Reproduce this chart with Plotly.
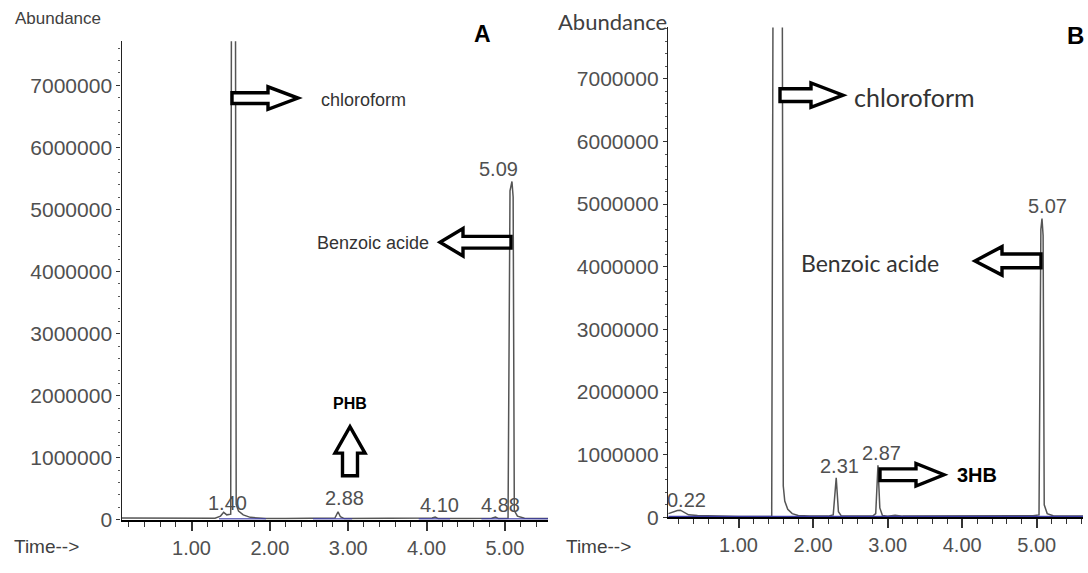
import plotly.graph_objects as go

W, H = 1088, 573

# ---------------- data ----------------
# Panel A chromatogram (time in min, abundance)
time_a = [0.10, 0.60, 1.00, 1.30, 1.37, 1.41, 1.45, 1.50, 1.51, 1.535, 1.56, 1.57,
          1.60, 1.66, 1.75, 1.85, 1.95, 2.20, 2.50, 2.83, 2.87, 2.90, 2.95, 3.20, 3.60,
          4.00, 4.07, 4.11, 4.15, 4.50, 4.83, 4.88, 4.92, 5.04, 5.065, 5.09, 5.105,
          5.12, 5.16, 5.25, 5.55]
abund_a = [30000, 30000, 25000, 25000, 60000, 120000, 80000, 90000, 9000000, 9500000,
           9000000, 250000, 140000, 80000, 40000, 25000, 20000, 20000, 20000, 30000,
           130000, 50000, 20000, 20000, 20000, 20000, 30000, 45000, 20000, 20000, 25000,
           45000, 20000, 25000, 5300000, 5450000, 5200000, 150000, 60000, 25000, 20000]
base_a_t = [1.35, 1.95, None, 2.55, 3.05, None, 3.90, 4.30, None, 4.70, 5.55]
base_a_y = [15000, 15000, None, 15000, 15000, None, 15000, 15000, None, 15000, 15000]

# Panel B chromatogram
time_b = [0.06, 0.12, 0.18, 0.22, 0.27, 0.33, 0.45, 0.70, 1.00, 1.30, 1.445, 1.465,
          1.52, 1.585, 1.600, 1.620, 1.66, 1.72, 1.80, 1.95, 2.20, 2.27, 2.31, 2.34,
          2.38, 2.50, 2.80, 2.84, 2.87, 2.895, 2.93, 3.00, 3.10, 3.20, 3.60, 4.00,
          4.05, 4.50, 4.95, 5.03, 5.055, 5.07, 5.085, 5.10, 5.14, 5.22, 5.62]
abund_b = [60000, 90000, 110000, 115000, 80000, 40000, 30000, 20000, 15000, 15000,
           15000, 9500000, 10000000, 9500000, 500000, 260000, 130000, 60000, 30000,
           20000, 20000, 40000, 630000, 90000, 20000, 20000, 20000, 60000, 830000,
           150000, 30000, 20000, 35000, 20000, 20000, 30000, 20000, 20000, 25000,
           40000, 4600000, 4770000, 4500000, 200000, 60000, 25000, 20000]
base_b_t = [0.06, 5.62]
base_b_y = [15000, 15000]

# peak labels
peaks_a_t = [1.40, 2.88, 4.10, 4.88, 5.09]
peaks_a_lbl = ["1.40", "2.88", "4.10", "4.88", "5.09"]
peaks_b_t = [0.22, 2.31, 2.87, 5.07]
peaks_b_lbl = ["0.22", "2.31", "2.87", "5.07"]

# axis ticks
y_ticks = [0, 1000000, 2000000, 3000000, 4000000, 5000000, 6000000, 7000000]
x_ticks = [1.0, 2.0, 3.0, 4.0, 5.0]

# ---------------- layout helpers (pixel -> paper) ----------------
def px(x):
    return x / W

def py(y):
    return 1 - y / H

def block_arrow(x0, y0, x1, y1, shaft, head, head_len):
    """outline block arrow from tail (x0,y0) to tip (x1,y1) in pixels"""
    dx, dy = x1 - x0, y1 - y0
    L = (dx * dx + dy * dy) ** 0.5
    ux, uy = dx / L, dy / L
    nx, ny = -uy, ux
    bx, by = x1 - ux * head_len, y1 - uy * head_len
    pts = [
        (x0 + nx * shaft, y0 + ny * shaft),
        (bx + nx * shaft, by + ny * shaft),
        (bx + nx * head, by + ny * head),
        (x1, y1),
        (bx - nx * head, by - ny * head),
        (bx - nx * shaft, by - ny * shaft),
        (x0 - nx * shaft, y0 - ny * shaft),
    ]
    path = "M " + " L ".join(f"{px(a):.5f},{py(b):.5f}" for a, b in pts) + " Z"
    return dict(type="path", xref="paper", yref="paper", path=path,
                line=dict(color="black", width=3.4), fillcolor="white", layer="above")

TICK_FONT = dict(family="Liberation Sans, Arial", size=20, color="#505050")
LINE_COL = "#555555"
BASE_COL = "#3d3da8"

fig = go.Figure()
fig.add_trace(go.Scatter(x=time_a, y=abund_a, mode="lines", xaxis="x", yaxis="y",
                         line=dict(color=LINE_COL, width=1.5), showlegend=False))
fig.add_trace(go.Scatter(x=base_a_t, y=base_a_y, mode="lines", xaxis="x", yaxis="y",
                         line=dict(color=BASE_COL, width=1.4), showlegend=False,
                         connectgaps=False))
fig.add_trace(go.Scatter(x=time_b, y=abund_b, mode="lines", xaxis="x2", yaxis="y2",
                         line=dict(color=LINE_COL, width=1.5), showlegend=False))
fig.add_trace(go.Scatter(x=base_b_t, y=base_b_y, mode="lines", xaxis="x2", yaxis="y2",
                         line=dict(color=BASE_COL, width=1.4), showlegend=False))

def xaxis_def(dom, rng, anchor):
    return dict(domain=dom, range=rng, anchor=anchor, showgrid=False, zeroline=False,
                showline=True, linecolor="black", linewidth=2.2,
                tickmode="array", tickvals=x_ticks, tickformat=".2f",
                ticks="outside", ticklen=9, tickwidth=1.5, tickcolor="#333",
                minor=dict(dtick=0.2, tick0=0, ticks="outside", ticklen=5,
                           tickwidth=1.3, tickcolor="#333"),
                tickfont=TICK_FONT, fixedrange=True)

def yaxis_def(dom, rng, anchor):
    return dict(domain=dom, range=rng, anchor=anchor, showgrid=False, zeroline=False,
                showline=True, linecolor="#222", linewidth=1.4,
                tickmode="array", tickvals=y_ticks, tickformat="d",
                ticks="outside", ticklen=4, tickwidth=1, tickcolor="#333",
                minor=dict(dtick=200000, tick0=0, ticks="outside", ticklen=2,
                           tickwidth=1, tickcolor="#555"),
                tickfont=dict(family="Liberation Sans, Arial", size=21, color="#505050"),
                fixedrange=True)

fig.update_layout(
    width=W, height=H, margin=dict(l=0, r=0, t=0, b=0), autosize=False,
    paper_bgcolor="white", plot_bgcolor="white",
    xaxis=xaxis_def([px(121.5), px(548)], [0.106, 5.55], "y"),
    yaxis=yaxis_def([py(530), py(42)], [0, 7710000], "x"),
    xaxis2=xaxis_def([px(668), px(1083)], [0.054, 5.62], "y2"),
    yaxis2=yaxis_def([py(527.5), py(28)], [0, 7820000], "x2"),
)

ann = []

def text(x, y, s, size, family="Liberation Sans, Arial", color="#333", bold=False):
    if bold:
        s = f"<b>{s}</b>"
    ann.append(dict(x=px(x), y=py(y), xref="paper", yref="paper", text=s,
                    showarrow=False, xanchor="center", yanchor="middle",
                    font=dict(family=family, size=size, color=color)))

# peak labels (x from data, vertical placement in pixels)
lab_a_y = [513, 508, 515, 515, 172]
lab_a_dx = [5, 6, 5, 5, -13]
for t, s, yy, dx in zip(peaks_a_t, peaks_a_lbl, lab_a_y, lab_a_dx):
    ann.append(dict(x=t, y=py(yy), xref="x", yref="paper", text=s, showarrow=False,
                    xanchor="center", yanchor="middle", xshift=dx,
                    font=dict(family="Liberation Sans, Arial", size=20, color="#505050")))
lab_b_y = [510, 475, 462, 210]
lab_b_dx = [6, 3, 4, 6]
for t, s, yy, dx in zip(peaks_b_t, peaks_b_lbl, lab_b_y, lab_b_dx):
    ann.append(dict(x=t, y=py(yy), xref="x2", yref="paper", text=s, showarrow=False,
                    xanchor="center", yanchor="middle", xshift=dx,
                    font=dict(family="Liberation Sans, Arial", size=20, color="#505050")))

# panel A texts
text(58, 19, "Abundance", 17, color="#404040")
text(46, 557, "Time-->", 19, color="#404040")
text(482, 35, "A", 23, color="black", bold=True)
text(363, 102, "chloroform", 18)
text(373, 248, "Benzoic acide", 18)
text(350, 411, "PHB", 16, color="black", bold=True)

# panel B texts
text(612, 22, "Abundance", 22, family="Lato, Noto Sans", color="#404040")
text(598, 557, "Time-->", 19, color="#404040")
text(1075, 36, "B", 24, color="black", bold=True)
text(914, 99, "chloroform", 25, family="Lato, Noto Sans")
text(870, 268, "Benzoic acide", 23, family="Lato, Noto Sans")
text(977, 484, "3HB", 20, color="black", bold=True)

shapes = [
    block_arrow(232, 100, 298, 100, 5.5, 11.5, 30),   # A chloroform
    block_arrow(511, 247, 440, 247, 6, 14, 23),       # A benzoic
    block_arrow(350, 485, 350, 435, 7.5, 15, 27),     # A PHB (up)
    block_arrow(780, 97, 843, 97, 6.5, 12.5, 32),     # B chloroform
    block_arrow(1041, 266, 975, 266, 7, 14.5, 27),    # B benzoic
    block_arrow(880, 484, 944, 484, 6, 11.5, 28),     # B 3HB
]

fig.update_layout(annotations=ann, shapes=shapes)
fig.write_html("out.html", config={"displayModeBar": False},
               post_script="document.body.style.margin='0px';document.body.style.overflow='hidden';")
